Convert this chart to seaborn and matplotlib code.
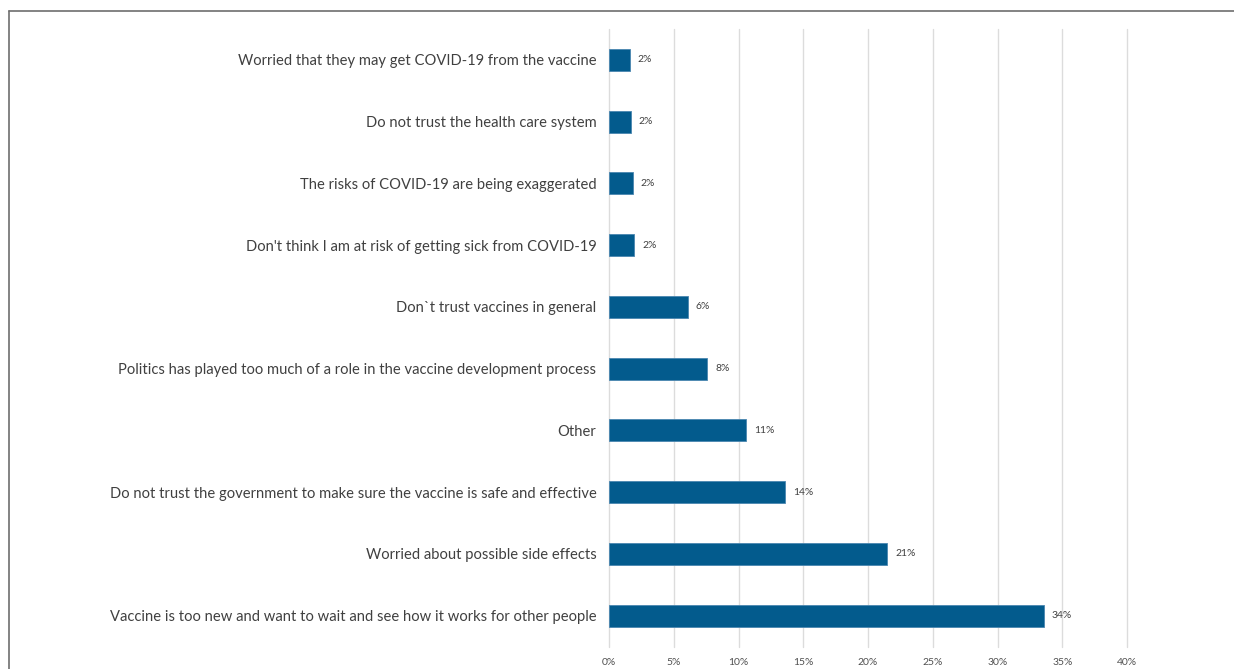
import matplotlib
matplotlib.use("Agg")
import matplotlib.pyplot as plt
import seaborn as sns
import pandas as pd
from matplotlib.lines import Line2D

categories = [
    "Worried that they may get COVID-19 from the vaccine",
    "Do not trust the health care system",
    "The risks of COVID-19 are being exaggerated",
    "Don't think I am at risk of getting sick from COVID-19",
    "Don`t trust vaccines in general",
    "Politics has played too much of a role in the vaccine development process",
    "Other",
    "Do not trust the government to make sure the vaccine is safe and effective",
    "Worried about possible side effects",
    "Vaccine is too new and want to wait and see how it works for other people",
]
values = [1.6, 1.7, 1.85, 1.95, 6.1, 7.6, 10.6, 13.6, 21.5, 33.6]
value_labels = ["2%", "2%", "2%", "2%", "6%", "8%", "11%", "14%", "21%", "34%"]
tick_values = [0, 5, 10, 15, 20, 25, 30, 35, 40]
tick_labels = ["0%", "5%", "10%", "15%", "20%", "25%", "30%", "35%", "40%"]

df = pd.DataFrame({"reason": categories, "pct": values})

sns.set_style("white")
plt.rcParams["font.family"] = ["Lato", "DejaVu Sans"]

W, H = 1234, 669
fig = plt.figure(figsize=(W / 100, H / 100), dpi=100)
ax = fig.add_axes([609 / W, 1 - 646.5 / H, (1127 - 609) / W, (646.5 - 29) / H])

bar_color = "#035b8d"
sns.barplot(data=df, y="reason", x="pct", orient="h", color=bar_color,
            width=0.36, ax=ax, edgecolor="#4a86b0", linewidth=0.6, saturation=1)

ax.set_xlim(0, 40)
ax.set_xticks(tick_values)
ax.set_xticklabels(tick_labels, fontsize=7.5, color="#505050")
ax.tick_params(axis="x", length=0, pad=8)
ax.tick_params(axis="y", length=0, pad=9, labelsize=10.6, labelcolor="#404040")
ax.set_xlabel("")
ax.set_ylabel("")
ax.xaxis.grid(True, color="#dcdcdc", linewidth=1.0)
ax.set_axisbelow(True)
for gl in ax.get_xgridlines():
    gl.set_clip_on(False)
for s in ax.spines.values():
    s.set_visible(False)

for i, (v, lab) in enumerate(zip(values, value_labels)):
    ax.text(v + 0.6, i, lab, va="center", ha="left", fontsize=7.5, color="#404040")

# outer frame (top and left edge visible, cropped at right/bottom)
fig.add_artist(Line2D([8.5 / W, 1.0], [1 - 11 / H, 1 - 11 / H], color="#6e6e6e",
                      linewidth=1.2, transform=fig.transFigure))
fig.add_artist(Line2D([8.5 / W, 8.5 / W], [0, 1 - 11 / H], color="#6e6e6e",
                      linewidth=1.2, transform=fig.transFigure))

fig.savefig("out.png", dpi=100)
